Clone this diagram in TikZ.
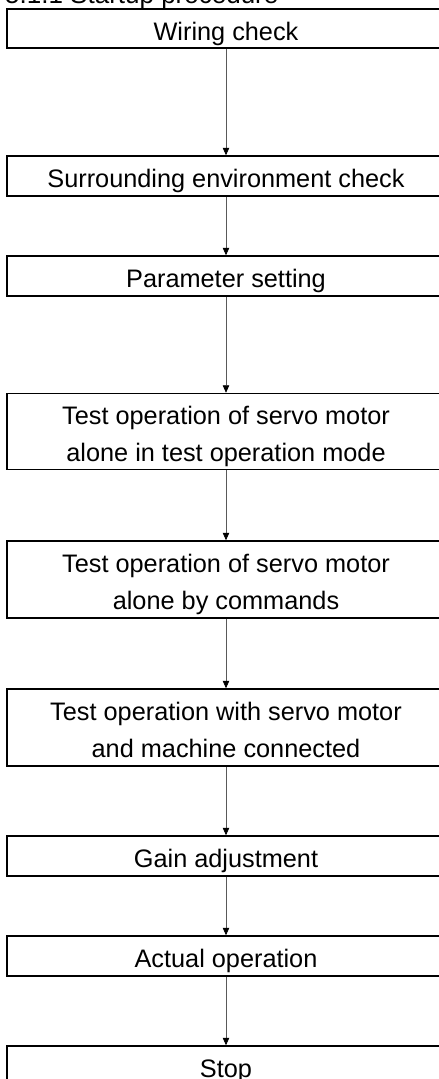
\documentclass[tikz,border=0pt]{standalone}
\usepackage{fontspec}
\setmainfont{Liberation Sans}
\usetikzlibrary{arrows.meta}
\newcommand{\bxtxt}[1]{\parbox[b]{430pt}{\centering #1}}
\tikzset{
  stepbox/.style={draw, line width=1.5pt, minimum width=438pt, inner sep=0pt,
    font=\fontsize{25.3}{36.5}\selectfont},
  oneline/.style={stepbox, minimum height=40pt, text height=23pt, text depth=0pt},
  twoline/.style={stepbox, minimum height=77pt, text height=59pt, text depth=0pt},
  flow/.style={draw=black!65, line width=0.7pt,
    -{Triangle[length=7.5pt,width=6.5pt,color=black]}}
}
\begin{document}
\begin{tikzpicture}[x=1pt,y=-1pt]
\path[use as bounding box, clip] (0,0) rectangle (439,1079);
\node[anchor=base west, inner sep=0pt, font=\fontsize{26}{30}\selectfont] (title) at (5,3.5) {5.1.1 Startup procedure};
\node[oneline, minimum height=39pt] (b1) at (226,28.5) {\bxtxt{Wiring check}};
\node[oneline] (b2) at (226,176) {\bxtxt{Surrounding environment check}};
\node[oneline] (b3) at (226,276) {\bxtxt{Parameter setting}};
\node[twoline, minimum height=76pt] (b4) at (226,431.5) {\bxtxt{Test operation of servo motor\\alone in test operation mode}};
\node[twoline] (b5) at (226,579.5) {\bxtxt{Test operation of servo motor\\alone by commands}};
\node[twoline] (b6) at (226,727.5) {\bxtxt{Test operation with servo motor\\and machine connected}};
\node[oneline] (b7) at (226,856) {\bxtxt{Gain adjustment}};
\node[oneline] (b8) at (226,956) {\bxtxt{Actual operation}};
\node[oneline] (b9) at (226,1066) {\bxtxt{Stop}};
\draw[flow] (b1) -- (b2);
\draw[flow] (b2) -- (b3);
\draw[flow] (b3) -- (b4);
\draw[flow] (b4) -- (b5);
\draw[flow] (b5) -- (b6);
\draw[flow] (b6) -- (b7);
\draw[flow] (b7) -- (b8);
\draw[flow] (b8) -- (b9);
\end{tikzpicture}
\end{document}
